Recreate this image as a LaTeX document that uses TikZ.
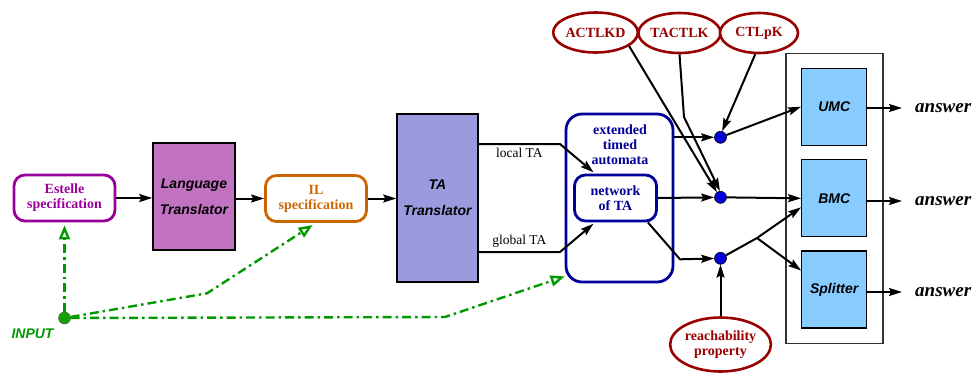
\documentclass[tikz,border=0pt]{standalone}
\usepackage{fontspec}
\setmainfont{Liberation Serif}
\setsansfont{Liberation Sans}
\usepackage{tikz}
\usetikzlibrary{shapes.geometric, arrows.meta, positioning, calc}
\definecolor{estpurple}{RGB}{153, 0, 153}
\definecolor{langfill}{RGB}{193, 114, 193}
\definecolor{ilorange}{RGB}{204, 102, 0}
\definecolor{tafill}{RGB}{154, 154, 222}
\definecolor{etanavy}{RGB}{0, 0, 153}
\definecolor{dotblue}{RGB}{0, 0, 215}
\definecolor{logicred}{RGB}{153, 0, 0}
\definecolor{mcblue}{RGB}{136, 204, 255}
\definecolor{inputgreen}{RGB}{0, 153, 0}

\begin{document}
\begin{tikzpicture}[x=1pt, y=-1pt,
  spec/.style={draw, rounded corners=11pt, line width=2.8pt, fill=white, minimum width=101pt, minimum height=46pt, align=center, font=\fontsize{14}{15}\selectfont\bfseries},
  trans/.style={draw, line width=1.5pt, align=center, font=\fontsize{14}{26}\selectfont\sffamily\bfseries\itshape},
  etabox/.style={draw=etanavy, text=etanavy, line width=2.8pt, align=center, font=\fontsize{14}{15}\selectfont\bfseries},
  logic/.style={ellipse, draw=logicred, line width=2.6pt, fill=white, text=logicred, inner sep=0pt, minimum height=40pt, align=center, font=\fontsize{14}{15}\selectfont\bfseries},
  junct/.style={circle, draw=black, fill=dotblue, inner sep=0pt, minimum size=12pt, line width=0.6pt},
  mc/.style={draw, line width=1.2pt, fill=mcblue, minimum width=65pt, minimum height=77pt, font=\fontsize{14}{15}\selectfont\sffamily\bfseries\itshape},
  ans/.style={anchor=west, inner sep=0pt, font=\fontsize{19}{20}\selectfont\bfseries\itshape},
  flow/.style={-{Stealth[length=13pt, width=8pt, inset=2pt]}, line width=2pt},
  feed/.style={-{Triangle[open, length=14pt, width=11pt]}, draw=inputgreen, line width=2.4pt, dash pattern=on 9pt off 4pt on 2.5pt off 4pt},
]
  \useasboundingbox (0,0) rectangle (973,373);

  % Translation chain
  \node[spec, draw=estpurple, text=estpurple] (estelle) at (64.5,198) {Estelle\\specification};
  \node[trans, fill=langfill, minimum width=82pt, minimum height=107pt] (langtr) at (194,196.5) {Language\\Translator};
  \node[spec, draw=ilorange, text=ilorange] (ilspec) at (316,198.5) {IL\\specification};
  \node[trans, fill=tafill, minimum width=81pt, minimum height=168pt] (tatr) at (437.5,198) {TA\\Translator};

  \draw[flow] (estelle.east) -- (estelle.east -| langtr.west);
  \draw[flow] (langtr.east |- ilspec) -- (ilspec.west);
  \draw[flow] (ilspec.east) -- (ilspec.east -| tatr.west);

  % Timed automata
  \node[etabox, rounded corners=16pt, minimum width=107pt, minimum height=168pt] (eta) at (619.5,198) {};
  \node[text=etanavy, align=center, font=\fontsize{14}{15}\selectfont\bfseries] (etalbl) at (620,145) {extended\\timed\\automata};
  \node[etabox, rounded corners=11pt, minimum width=82pt, minimum height=46pt] (net) at (615.5,198) {network\\of TA};

  \coordinate (lbend) at (560,144);
  \coordinate (gbend) at (560,252);
  \draw[flow, shorten >=2pt] (tatr.east |- lbend) -- node[below, font=\fontsize{13.5}{15}\selectfont] (loclbl) {local TA} (lbend) -- (net.130);
  \draw[flow, shorten >=2pt] (tatr.east |- gbend) -- node[above, font=\fontsize{13.5}{15}\selectfont] (glblbl) {global TA} (gbend) -- (net.-130);

  % Junctions
  \node[junct] (j1) at (720.5,137.3) {};
  \node[junct] (j2) at (720.5,197.3) {};
  \node[junct] (j3) at (720.5,258.3) {};

  \coordinate (nbend) at (680,259.3);
  \draw[flow] (eta.east |- j1) -- (j1);
  \draw[flow] (net.east) -- (j2);
  \draw[flow] (net.-37) -- (nbend) -- (j3);

  % Logics and property
  \node[logic, minimum width=84pt] (actlkd) at (595.5,32.5) {ACTLKD};
  \node[logic, minimum width=78pt] (tactlk) at (679.5,33) {TACTLK};
  \node[logic, minimum width=78pt] (ctlpk) at (759,33) {CTLpK};
  \node[logic, minimum width=98pt, minimum height=54pt] (reach) at (720.5,344.5) {reachability\\property};

  \coordinate (tbend) at (684,117);
  \draw[flow] (actlkd.-22) -- (j2.125);
  \draw[flow] (tactlk.south) -- (tbend) -- (j2.95);
  \draw[flow] (ctlpk.-100) -- (j1.75);
  \draw[flow] (reach) -- (j3);

  % Model checkers
  \node[draw=black!80, line width=1.6pt, minimum width=97pt, minimum height=290pt] (mcbox) at (834.2,198.3) {};
  \node[mc] (umc) at (834.2,106.7) {UMC};
  \node[mc] (bmc) at (834.2,198.3) {BMC};
  \node[mc] (splitter) at (834.2,289.5) {Splitter};

  \coordinate (fk3) at (757,238);
  \draw[flow] (j1) -- (umc.west);
  \draw[flow] (j2) -- (bmc.west);
  \draw[flow] (j3) -- (fk3) -- ($(bmc.west)+(0,9)$);
  \draw[flow] (fk3) -- ($(splitter.west)+(0,-19)$);

  \node[ans] (ans1) at (915,108) {answer};
  \node[ans] (ans2) at (915,201) {answer};
  \node[ans] (ans3) at (915,292) {answer};
  \draw[flow, shorten >=13pt] (umc.east |- ans1) -- (ans1.west);
  \draw[flow, shorten >=13pt] (bmc.east |- ans2) -- (ans2.west);
  \draw[flow, shorten >=13pt] (splitter.east |- ans3) -- (ans3.west);

  % Input feeds
  \node[circle, fill=inputgreen!90!lime, draw=black!70, inner sep=0pt, minimum size=12pt] (inp) at (64.5,318) {};
  \node[text=inputgreen, font=\fontsize{14}{15}\selectfont\sffamily\bfseries\itshape] (inplbl) at (32.5,334) {INPUT};

  \coordinate (fk1) at (207,293.3);
  \coordinate (fk2) at (445,317);
  \draw[feed, shorten >=3pt] (inp) -- (estelle);
  \draw[feed, shorten >=4pt] (inp) -- (fk1) -- (ilspec.south);
  \draw[feed] (inp) -- (fk2) -- (eta.-125);
\end{tikzpicture}
\end{document}
